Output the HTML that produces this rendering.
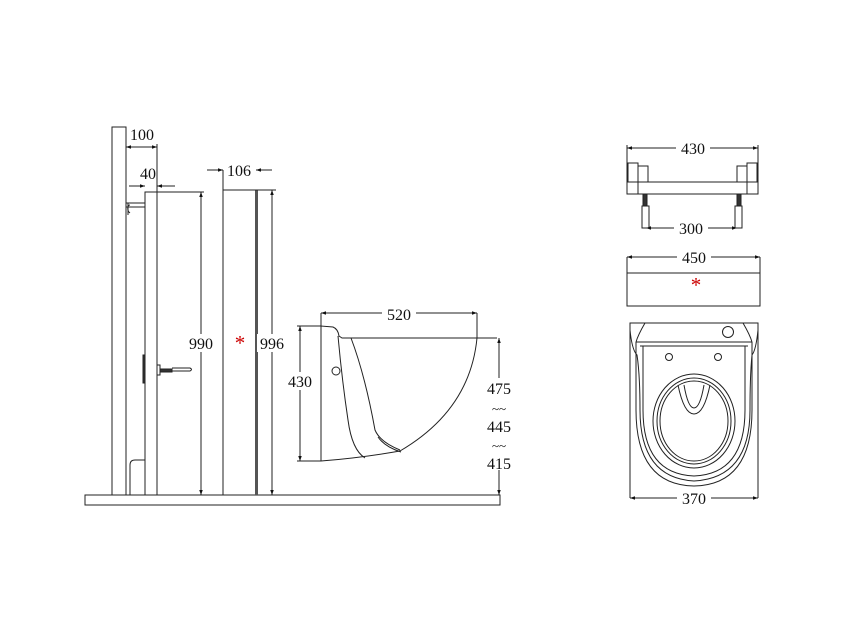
<!DOCTYPE html>
<html><head><meta charset="utf-8"><style>
html,body{margin:0;padding:0;background:#fff;}
svg{display:block;}
text{font-family:"Liberation Serif",serif;font-size:16px;fill:#111;}
</style></head><body>
<svg width="849" height="636" viewBox="0 0 849 636" xmlns="http://www.w3.org/2000/svg">
<defs>
<marker id="a" viewBox="0 0 10 10" refX="10" refY="5" markerWidth="7" markerHeight="5" orient="auto-start-reverse"><path d="M0,1.5 L10,5 L0,8.5z" fill="#111"/></marker>
</defs>
<g fill="none" stroke="#222" stroke-width="1">
<path d="M112,495 V127 H126 V495"/>
<path d="M85,495 H500 V505 H85 Z"/>
<rect x="145" y="192" width="12" height="303"/>
<path d="M126,203 H145 M126,207 H145"/>
<path d="M128,203 V215 M130,205 c-3,0 -3,6 0,8"/>
<path d="M130,495 V465 q0,-5 5,-5 H145"/>
<rect x="143" y="355" width="2" height="28" fill="#333"/>
<path d="M157,365 h3 v10 h-3"/>
<rect x="160" y="369" width="12" height="3" fill="#333"/>
<path d="M172,368 h18 q3,1.5 0,3 h-18"/>
<line x1="126" y1="147" x2="157" y2="147" marker-start="url(#a)" marker-end="url(#a)"/>
<line x1="157" y1="144" x2="157" y2="192"/>
<line x1="129" y1="186" x2="145" y2="186" marker-end="url(#a)"/>
<line x1="175" y1="186" x2="157" y2="186" marker-end="url(#a)"/>
<line x1="157" y1="192" x2="204" y2="192"/>
<line x1="201" y1="192" x2="201" y2="495" marker-start="url(#a)" marker-end="url(#a)"/>
<line x1="223" y1="190" x2="223" y2="495"/>
<rect x="255" y="190" width="3" height="305" fill="#555" stroke="none"/>
<line x1="223" y1="190" x2="276" y2="190"/>
<line x1="223" y1="170" x2="223" y2="190"/>
<line x1="207" y1="170" x2="223" y2="170" marker-end="url(#a)"/>
<line x1="272" y1="170" x2="256" y2="170" marker-end="url(#a)"/>
<line x1="272" y1="190" x2="272" y2="495" marker-start="url(#a)" marker-end="url(#a)"/>
<path d="M321,461 V326 L333,327 Q338,329 339,336 L342,338 H497"/>
<path d="M477,338 Q470,410 400,451 Q360,458 321,461"/>
<path d="M338,336 Q342,380 348,420 Q352,450 365,458"/>
<path d="M351,338 Q365,375 375,430 Q380,442 400,450"/>
<path d="M378,437 Q385,447 401,452"/>
<circle cx="336" cy="371" r="4"/>
<line x1="321" y1="313" x2="477" y2="313" marker-start="url(#a)" marker-end="url(#a)"/>
<line x1="321" y1="313" x2="321" y2="326"/>
<line x1="477" y1="313" x2="477" y2="338"/>
<line x1="297" y1="326" x2="321" y2="326"/>
<line x1="297" y1="461" x2="321" y2="461"/>
<line x1="300" y1="326" x2="300" y2="461" marker-start="url(#a)" marker-end="url(#a)"/>
<line x1="499" y1="338" x2="499" y2="495" marker-start="url(#a)" marker-end="url(#a)"/>
<line x1="627" y1="148" x2="758" y2="148" marker-start="url(#a)" marker-end="url(#a)"/>
<line x1="627" y1="145" x2="627" y2="182"/>
<line x1="758" y1="145" x2="758" y2="182"/>
<rect x="627" y="182" width="131" height="12"/>
<path d="M638,182 V194 M747,182 V194"/>
<rect x="628" y="163" width="10" height="19"/>
<rect x="747" y="163" width="10" height="19"/>
<path d="M638,166 H648 V182 M747,166 H737 V182"/>
<rect x="643" y="194" width="4" height="12" fill="#333"/>
<rect x="737" y="194" width="4" height="12" fill="#333"/>
<rect x="642" y="206" width="7" height="22"/>
<rect x="735" y="206" width="7" height="22"/>
<line x1="646" y1="228" x2="737" y2="228" marker-start="url(#a)" marker-end="url(#a)"/>
<line x1="627" y1="257" x2="760" y2="257" marker-start="url(#a)" marker-end="url(#a)"/>
<rect x="627" y="273" width="133" height="33"/>
<path d="M627,257 V273 M760,257 V273"/>
<path d="M630,498 V323 H758 V498"/>
<path d="M645,323 Q638,335 636,342 M743,323 Q750,335 752,342"/>
<path d="M636,342 H752"/>
<path d="M640,346 H748"/>
<path d="M630,330 Q632,350 637,355 Q640,375 640,410 Q640,478 694,481 Q750,478 750,410 Q750,375 752,355 Q756,350 758,330"/>
<path d="M636,342 L636,410 Q636,485 694,486 Q752,485 752,410 L752,342"/>
<path d="M643,346 V410 Q643,474 694,476 Q745,474 745,410 V346"/>
<circle cx="728" cy="332" r="5.5"/>
<circle cx="669" cy="357" r="3.5"/>
<circle cx="718" cy="357" r="3.5"/>
<ellipse cx="694" cy="421" rx="41" ry="47"/>
<ellipse cx="694" cy="421" rx="37" ry="43"/>
<ellipse cx="694" cy="421" rx="34" ry="40"/>
<path d="M678,385 Q684,414 694,414 Q704,414 710,385 M684,385 Q688,408 694,408 Q700,408 704,385"/>
<line x1="630" y1="498" x2="758" y2="498" marker-start="url(#a)" marker-end="url(#a)"/>
</g>
<g text-anchor="middle">
<rect x="128" y="126" width="30" height="16" fill="#fff"/>
<text x="142" y="140">100</text>
<text x="148" y="179">40</text>
<text x="239" y="176">106</text>
<rect x="187" y="334" width="28" height="18" fill="#fff"/>
<text x="201" y="349">990</text>
<rect x="257" y="334" width="30" height="18" fill="#fff"/>
<text x="272" y="349">996</text>
<text x="240" y="350" style="fill:#c00;font-size:21px">*</text>
<rect x="382" y="305" width="34" height="16" fill="#fff"/>
<text x="399" y="320">520</text>
<rect x="286" y="372" width="29" height="18" fill="#fff"/>
<text x="300" y="387">430</text>
<rect x="484" y="378" width="30" height="92" fill="#fff"/>
<text x="499" y="394">475</text>
<text x="499" y="413" style="font-size:13px">~~</text>
<text x="499" y="432">445</text>
<text x="499" y="450" style="font-size:13px">~~</text>
<text x="499" y="469">415</text>
<rect x="676" y="140" width="34" height="16" fill="#fff"/>
<text x="693" y="154">430</text>
<rect x="674" y="220" width="34" height="16" fill="#fff"/>
<text x="691" y="234">300</text>
<rect x="677" y="249" width="34" height="16" fill="#fff"/>
<text x="694" y="263">450</text>
<text x="696" y="292" style="fill:#c00;font-size:21px">*</text>
<rect x="677" y="490" width="34" height="16" fill="#fff"/>
<text x="694" y="504">370</text>
</g>
</svg>
</body></html>
